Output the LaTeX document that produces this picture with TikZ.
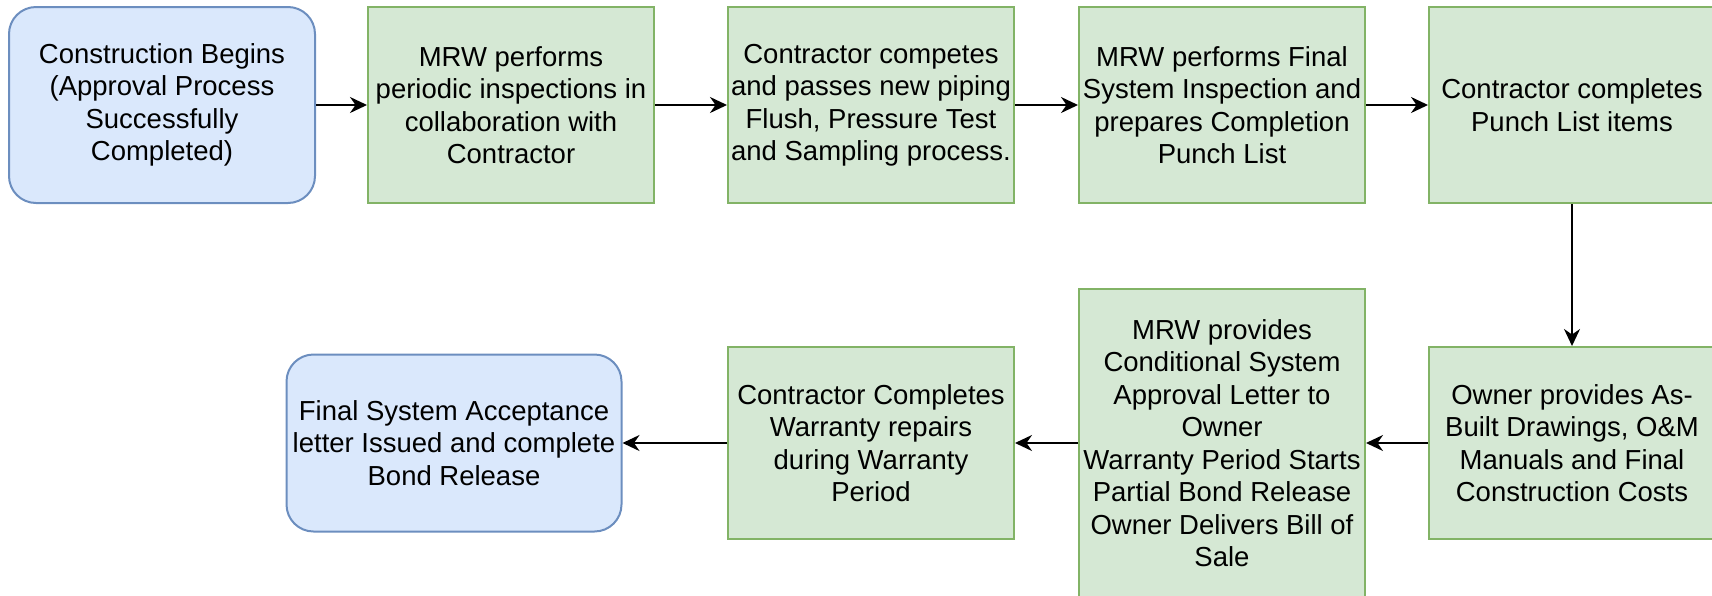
\documentclass[tikz,border=0pt]{standalone}
\usepackage{fontspec}
\setmainfont{Liberation Sans}
\usetikzlibrary{arrows.meta,positioning}
\definecolor{startFill}{HTML}{DAE8FC}
\definecolor{startLine}{HTML}{6C8EBF}
\definecolor{taskFill}{HTML}{D5E8D4}
\definecolor{taskLine}{HTML}{82B366}

\begin{document}
\begin{tikzpicture}[x=1pt, y=-1pt, on grid, node distance=350pt,
	font=\fontsize{27.5}{32.5}\selectfont,
	terminal/.style={draw=startLine, fill=startFill, line width=2pt, rounded corners=27pt, align=center, inner sep=0pt, minimum width=306pt, minimum height=196pt},
	task/.style={draw=taskLine, fill=taskFill, line width=2pt, align=center, inner sep=0pt, minimum width=286pt, minimum height=196pt},
	>={Stealth[length=17pt, width=16pt]}]
		\useasboundingbox (0,0) rectangle (1712,595);
		\node[terminal] (begins) at (162,105) {Construction Begins\\(Approval Process\\Successfully\\Completed)};
		\node[task, right = 349pt of begins] (inspect) {MRW performs\\periodic inspections in\\collaboration with\\Contractor};
		\node[task, right = 360pt of inspect] (flush) {Contractor competes\\and passes new piping\\Flush, Pressure Test\\and Sampling process.};
		\node[task, right = 351pt of flush] (final) {MRW performs Final\\System Inspection and\\prepares Completion\\Punch List};
		\node[task, right = of final] (punch) {Contractor completes\\Punch List items};
		\node[task, below = 338pt of punch, minimum height=192pt] (asbuilt) {Owner provides As-\\Built Drawings, O\&M\\Manuals and Final\\Construction Costs};
		\node[task, left = of asbuilt, minimum height=308pt] (approval) {MRW provides\\Conditional System\\Approval Letter to\\Owner\\Warranty Period Starts\\Partial Bond Release\\Owner Delivers Bill of\\Sale};
		\node[task, left = 351pt of approval, minimum height=192pt] (repairs) {Contractor Completes\\Warranty repairs\\during Warranty\\Period};
		\node[terminal, left = 417pt of repairs, minimum width=335pt, minimum height=177pt] (release) {Final System Acceptance\\letter Issued and complete\\Bond Release};
		
		\path[->, line width=2pt] (begins) edge (inspect)
		(inspect)  edge (flush)
		(flush)    edge (final)
		(final)    edge (punch)
		(punch)    edge (asbuilt)
		(asbuilt)  edge (approval)
		(approval) edge (repairs)
		(repairs)  edge (release);
\end{tikzpicture}
\end{document}
